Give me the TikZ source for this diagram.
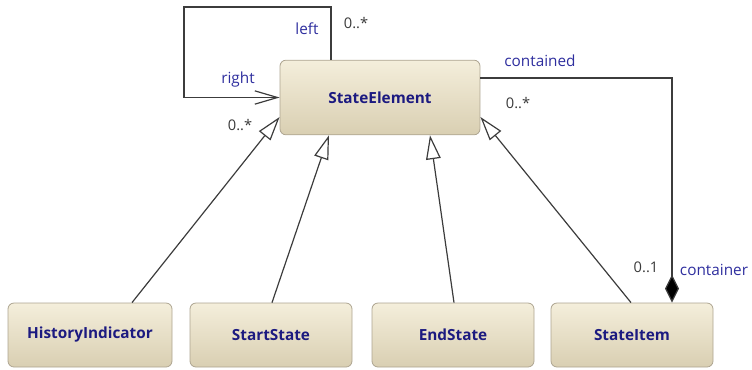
\documentclass[tikz,border=0pt]{standalone}
\usepackage{fontspec}
\setmainfont{Open Sans}
\usetikzlibrary{arrows.meta,calc}
\definecolor{boxtop}{HTML}{F4EEDB}
\definecolor{boxbot}{HTML}{D9CFB2}
\definecolor{boxline}{HTML}{ADA490}
\definecolor{clsname}{HTML}{1C1A80}
\definecolor{rolecol}{HTML}{2E2E9E}
\definecolor{multcol}{HTML}{3A3A3A}
\definecolor{linecol}{HTML}{3C3C3C}
\begin{document}
\begin{tikzpicture}[x=0.75pt,y=-0.75pt,
  classbox/.style={draw=boxline, line width=0.6pt, rounded corners=4.5pt,
    top color=boxtop, bottom color=boxbot, inner sep=0pt,
    font=\fontsize{11.5}{13}\selectfont\bfseries, text=clsname},
  conn/.style={draw=linecol, line width=0.9pt},
  gen/.style={conn, -{Triangle[open, length=18pt, width=11pt, fill=white]}},
  nav/.style={conn, -{Straight Barb[length=17pt, width=10pt]}},
  comp/.style={conn, {Diamond[length=21pt, width=10.5pt, fill=black]}-},
  role/.style={font=\fontsize{11.5}{13}\selectfont, text=rolecol, inner sep=0pt},
  mult/.style={font=\fontsize{11}{13}\selectfont, text=multcol, inner sep=0pt}]
\useasboundingbox (0,0) rectangle (752,369);

\node[classbox, minimum width=150pt, minimum height=56pt] (se) at (380,97.5) {StateElement};
\node[classbox, minimum width=123pt, minimum height=48pt] (hi) at (90,335) {HistoryIndicator};
\node[classbox, minimum width=121.5pt, minimum height=48pt] (ss) at (271,335) {StartState};
\node[classbox, minimum width=121.5pt, minimum height=48pt] (es) at (453,335) {EndState};
\node[classbox, minimum width=121.5pt, minimum height=48pt] (si) at (632,335) {StateItem};

% generalizations
\draw[gen] ($(hi.north)+(42,0)$) -- ($(se.west)+(0,19.5)$);
\draw[gen] ($(ss.north)+(1,0)$) -- ($(se.south)+(-51,0)$);
\draw[gen] ($(es.north)+(1,0)$) -- ($(se.south)+(50,0)$);
\draw[gen] ($(si.north)+(-1,0)$) -- ($(se.east)+(0,19.5)$);

% self association
\coordinate (loopA) at ($(se.north)+(-49,0)$);
\draw[nav] (loopA) -- (loopA |- 0,7) -- (184,7) -- (184,97.5) -- (se.west);

% containment
\coordinate (cstart) at ($(se.east)+(0,-19.5)$);
\coordinate (cend) at ($(si.north)+(40,0)$);
\draw[comp] (cend) -- (cend |- cstart) -- (cstart);

% labels
\node[role] (lleft) at (307,29) {left};
\node[mult] (mleft) at (356,23) {0..*};
\node[role] (lright) at (238,80) {right};
\node[mult] (mright) at (240,125) {0..*};
\node[role] (lcont) at (540,61) {contained};
\node[mult] (mcont) at (518,103) {0..*};
\node[mult] (mcontr) at (646,267) {0..1};
\node[role] (lcontr) at (714,270) {container};
\end{tikzpicture}
\end{document}
